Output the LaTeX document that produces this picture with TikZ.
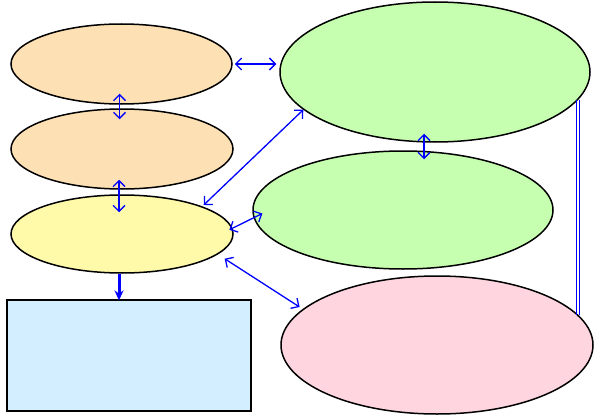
\documentclass[tikz,border=0pt]{standalone}
\usetikzlibrary{shapes.geometric,arrows.meta}
\definecolor{cOrange}{RGB}{253,224,179}
\definecolor{cGreen}{RGB}{198,255,176}
\definecolor{cYellow}{RGB}{255,250,170}
\definecolor{cPink}{RGB}{255,214,224}
\definecolor{cBlue}{RGB}{210,238,255}
\definecolor{lineBlue}{RGB}{0,0,255}
\begin{document}
\begin{tikzpicture}[x=1pt,y=-1pt,
  ell/.style={ellipse,draw=black,line width=1.5pt,inner sep=0pt},
  box/.style={rectangle,draw=black,line width=1.2pt,inner sep=0pt},
  arr/.style={draw=lineBlue,line width=1.3pt,{Straight Barb[length=6pt,width=12pt]}-{Straight Barb[length=6pt,width=12pt]}},
  thick arr/.style={draw=lineBlue,fill=lineBlue,line width=3pt,-{Stealth[length=10pt,width=9pt]}},
  dbl/.style={draw=lineBlue,line width=1.4pt}]
\useasboundingbox (0,0) rectangle (600,420);
\node[ell,fill=cOrange,minimum width=221pt,minimum height=80pt] (e1) at (121.5,64) {};
\node[ell,fill=cOrange,minimum width=222pt,minimum height=80pt] (e2) at (122,149) {};
\node[ell,fill=cYellow,minimum width=222pt,minimum height=78pt] (ye) at (122,234) {};
\node[box,fill=cBlue,minimum width=244pt,minimum height=111pt] (rb) at (129,355.5) {};
\node[ell,fill=cGreen,minimum width=310pt,minimum height=140pt] (gt) at (435,72) {};
\node[ell,fill=cGreen,minimum width=300pt,minimum height=118pt] (gm) at (403,210) {};
\node[ell,fill=cPink,minimum width=312pt,minimum height=138pt] (pk) at (437,345) {};
% connectors
\draw[arr,shorten <=-11pt,shorten >=-11pt] ([xshift=-2pt]e1.south) -- ([xshift=-2pt]e1.south |- e2.north);
\draw[arr,shorten <=-10pt,shorten >=-18pt] ([xshift=-3pt]e2.south) -- ([xshift=-3pt]e2.south |- ye.north);
\draw[arr,shorten <=2pt,shorten >=3pt] (e1.east) -- (e1.east -| gt.west);
\draw[arr,shorten <=-9pt,shorten >=-9pt] ([xshift=-11pt]gt.south) -- ([xshift=-11pt]gt.south |- gm.north);
\draw[arr,shorten >=2pt] (gt.196) -- (ye.19);
\draw[arr,shorten <=-3.6pt,shorten >=-9.8pt] (ye.3) -- (gm.183);
\draw[arr,shorten <=8pt,shorten >=3.7pt] (ye.-12.8) -- (pk.165.4);
\draw[thick arr,shorten >=-1pt] ([xshift=-3pt]ye.south) -- ([xshift=-3pt]ye.south |- rb.north);
\draw[dbl] ([xshift=-1.4pt]gt.-11) -- ([xshift=-1.4pt]gt.-11 |- pk.12);
\draw[dbl] ([xshift=1.4pt]gt.-11) -- ([xshift=1.4pt]gt.-11 |- pk.12);
\end{tikzpicture}
\end{document}
